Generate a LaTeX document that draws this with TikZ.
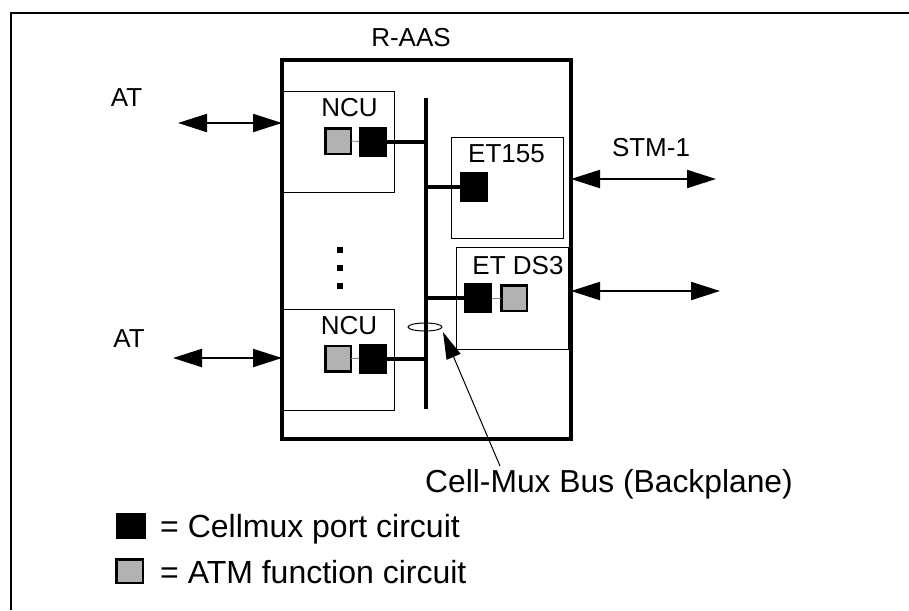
\documentclass[tikz,border=0pt]{standalone}
\usepackage{fontspec}
\setmainfont{Liberation Sans}
\usetikzlibrary{arrows.meta,shapes.geometric}
\definecolor{fgray}{gray}{0.70}
\begin{document}
\begin{tikzpicture}[x=1pt,y=-1pt,
  lbl/.style={font=\fontsize{26}{30}\selectfont, inner sep=0pt},
  biglbl/.style={font=\fontsize{31.8}{36}\selectfont, inner sep=0pt},
  leglbl/.style={font=\fontsize{32}{36}\selectfont, inner sep=0pt},
  card/.style={draw, line width=1pt, minimum width=112pt, minimum height=101pt, inner sep=0pt, outer sep=0pt},
  blk/.style={fill=black, minimum width=28pt, minimum height=30pt, inner sep=0pt, outer sep=0pt},
  gry/.style={fill=fgray, draw=black, line width=2.5pt, minimum width=25.5pt, minimum height=25.5pt, inner sep=0pt, outer sep=0pt},
  busline/.style={line width=4pt},
  link/.style={draw=gray, line width=0.8pt},
  dbl/.style={line width=2.2pt, {Triangle[length=29pt,width=18pt]}-{Triangle[length=29pt,width=18pt]}},
  ptr/.style={line width=1pt, -{Triangle[length=27pt,width=15pt]}},
  dotsq/.style={fill=black, minimum size=6pt, inner sep=0pt}
]
\useasboundingbox (0,0) rectangle (909,610);
% outer frame (top and left visible)
\draw[line width=1.3pt] (11,610) -- (11,13) -- (909,13);

% R-AAS shelf
\node[draw, line width=3.5pt, minimum width=289pt, minimum height=379pt, inner sep=0pt, outer sep=0pt] (raas) at (426.5,249.5) {};
\node[lbl] (raaslbl) at (411,37.5) {R-AAS};

% cards
\node[card] (ncuA) at (338.5,141.5) {};
\node[card] (ncuB) at (338,359.5) {};
\node[card] (et155) at (507,187.5) {};
\node[card, minimum height=102pt] (etds3) at (512,298) {};
\node[lbl] (ncuAl) at (349.5,107.5) {NCU};
\node[lbl] (ncuBl) at (349,325.5) {NCU};
\node[lbl] (et155l) at (506.5,153.5) {ET155};
\node[lbl] (etds3l) at (518,266) {ET DS3};

% circuits
\node[gry] (ncuAg) at (338,141) {};
\node[blk] (ncuAb) at (373,141.5) {};
\node[gry] (ncuBg) at (338,358.5) {};
\node[blk] (ncuBb) at (372.5,358.5) {};
\node[blk] (et155b) at (474,186.5) {};
\node[blk] (etds3b) at (478,298) {};
\node[gry] (etds3g) at (514,298) {};
\draw[link] (ncuAg.east) -- (ncuAb.west);
\draw[link] (ncuBg.east) -- (ncuBb.west);
\draw[link] (etds3b.east) -- (etds3g.west);

% backplane bus
\coordinate (busTop) at (426,98);
\coordinate (busBot) at (426,409);
\draw[busline] (busTop) -- (busBot);
\draw[busline] (ncuAb.east) -- (ncuAb.east -| busTop);
\draw[busline] (ncuBb.east) -- (ncuBb.east -| busTop);
\draw[busline] (et155b.west) -- (et155b.west -| busTop);
\draw[busline] (etds3b.west) -- (etds3b.west -| busTop);

% dots
\node[dotsq] (d1) at (340,250) {};
\node[dotsq] (d2) at (340,268) {};
\node[dotsq] (d3) at (340,286) {};

% bus marker ellipse and pointer
\node[draw, ellipse, line width=1pt, minimum width=34pt, minimum height=8pt, inner sep=0pt] (ring) at (425,327) {};
\coordinate (ptip) at (443,332);
\coordinate (pstart) at (500,466);
\draw[ptr] (pstart) -- (ptip);
\node[biglbl, anchor=base west] (cmtxt) at (425,492) {Cell-Mux Bus (Backplane)};

% external interfaces
\node[lbl] (atA) at (126.5,97.5) {AT};
\node[lbl] (atB) at (129,338.5) {AT};
\node[lbl] (stm) at (651,148) {STM-1};
\coordinate (atAend) at (178,123);
\coordinate (atBend) at (173,358);
\coordinate (stmEnd) at (716,179);
\coordinate (ds3End) at (720,291);
\draw[dbl] (atAend) -- (atAend -| raas.west);
\draw[dbl] (atBend) -- (atBend -| raas.west);
\draw[dbl] (stmEnd -| raas.east) -- (stmEnd);
\draw[dbl] (ds3End -| raas.east) -- (ds3End);

% legend
\node[fill=black, minimum width=30pt, minimum height=26pt, inner sep=0pt] (legb) at (131,525.5) {};
\node[gry, minimum width=26.5pt, minimum height=23.5pt] (legg) at (129.5,571) {};
\node[leglbl, anchor=base west] (legbt) at (160,537) {= Cellmux port circuit};
\node[leglbl, anchor=base west] (leggt) at (160,583) {= ATM function circuit};
\end{tikzpicture}
\end{document}
